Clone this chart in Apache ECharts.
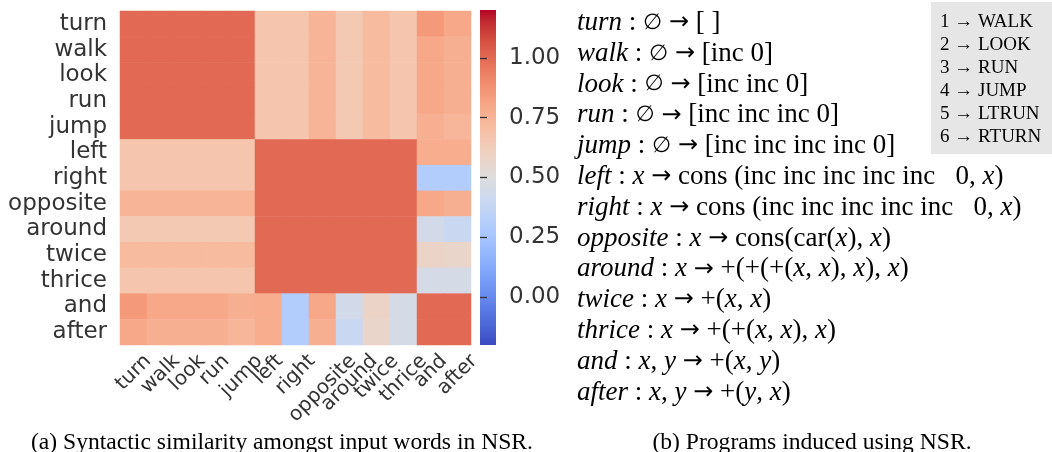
<!DOCTYPE html>
<html><head><meta charset="utf-8">
<script src="https://cdn.jsdelivr.net/npm/echarts@6/dist/echarts.min.js"></script>
<style>html,body{margin:0;padding:0;background:#fff}#c{width:1052px;height:452px}</style>
</head><body><div id="c"></div>
<script>
// ---------- data ----------
const categories = ['turn','walk','look','run','jump','left','right','opposite','around','twice','thrice','and','after'];
const rowTurn     = [1,1,1,1,1, 0.67,0.67,0.75,0.65,0.72,0.67, 0.85,0.80];
const rowWalk     = [1,1,1,1,1, 0.67,0.67,0.75,0.65,0.72,0.67, 0.80,0.77];
const rowLook     = [1,1,1,1,1, 0.67,0.67,0.75,0.65,0.72,0.67, 0.80,0.77];
const rowRun      = [1,1,1,1,1, 0.67,0.67,0.75,0.65,0.72,0.67, 0.80,0.77];
const rowJump     = [1,1,1,1,1, 0.67,0.67,0.75,0.65,0.72,0.67, 0.77,0.74];
const rowLeft     = [0.67,0.67,0.67,0.67,0.67, 1,1,1,1,1,1, 0.78,0.78];
const rowRight    = [0.67,0.67,0.67,0.67,0.67, 1,1,1,1,1,1, 0.30,0.30];
const rowOpposite = [0.75,0.75,0.75,0.75,0.75, 1,1,1,1,1,1, 0.80,0.77];
const rowAround   = [0.65,0.65,0.65,0.65,0.65, 1,1,1,1,1,1, 0.44,0.40];
const rowTwice    = [0.72,0.72,0.72,0.72,0.72, 1,1,1,1,1,1, 0.58,0.57];
const rowThrice   = [0.67,0.67,0.67,0.67,0.67, 1,1,1,1,1,1, 0.45,0.45];
const rowAnd      = [0.85,0.80,0.80,0.80,0.77, 0.78,0.30,0.80,0.44,0.58,0.45, 1,1];
const rowAfter    = [0.80,0.77,0.77,0.77,0.74, 0.78,0.30,0.77,0.40,0.57,0.45, 1,1];
const simMatrix = [rowTurn,rowWalk,rowLook,rowRun,rowJump,rowLeft,rowRight,rowOpposite,rowAround,rowTwice,rowThrice,rowAnd,rowAfter];
const colorbarTicks = [0, 0.25, 0.5, 0.75, 1.0];
const colorMin = -0.2, colorMax = 1.2;

const programLines = [
  '{i|turn}{r| : }{s|∅}{r| }{a|→}{r| [ ]}',
  '{i|walk}{r| : }{s|∅}{r| }{a|→}{r| [inc 0]}',
  '{i|look}{r| : }{s|∅}{r| }{a|→}{r| [inc inc 0]}',
  '{i|run}{r| : }{s|∅}{r| }{a|→}{r| [inc inc inc 0]}',
  '{i|jump}{r| : }{s|∅}{r| }{a|→}{r| [inc inc inc inc 0]}',
  '{i|left}{r| : }{i|x}{r| }{a|→}{r| cons (inc inc inc inc inc   0, }{i|x}{r|)}',
  '{i|right}{r| : }{i|x}{r| }{a|→}{r| cons (inc inc inc inc inc   0, }{i|x}{r|)}',
  '{i|opposite}{r| : }{i|x}{r| }{a|→}{r| cons(car(}{i|x}{r|), }{i|x}{r|)}',
  '{i|around}{r| : }{i|x}{r| }{a|→}{r| +(+(+(}{i|x}{r|, }{i|x}{r|), }{i|x}{r|), }{i|x}{r|)}',
  '{i|twice}{r| : }{i|x}{r| }{a|→}{r| +(}{i|x}{r|, }{i|x}{r|)}',
  '{i|thrice}{r| : }{i|x}{r| }{a|→}{r| +(+(}{i|x}{r|, }{i|x}{r|), }{i|x}{r|)}',
  '{i|and}{r| : }{i|x}{r|, }{i|y}{r| }{a|→}{r| +(}{i|x}{r|, }{i|y}{r|)}',
  '{i|after}{r| : }{i|x}{r|, }{i|y}{r| }{a|→}{r| +(}{i|y}{r|, }{i|x}{r|)}'
];
const legendLines = ['1 → WALK','2 → LOOK','3 → RUN','4 → JUMP','5 → LTRUN','6 → RTURN'];
const captionA = '(a) Syntactic similarity amongst input words in NSR.';
const captionB = '(b) Programs induced using NSR.';

// coolwarm colormap (evenly spaced stops)
const coolwarm = [
 [59,76,192],[68,90,204],[77,104,215],[87,117,225],[98,130,234],[108,142,241],[119,154,247],[130,165,251],
 [141,176,254],[152,185,255],[163,194,255],[174,201,253],[184,208,249],[194,213,244],[204,217,238],[213,219,230],
 [221,221,221],[229,216,209],[236,211,197],[241,204,184],[245,196,172],[247,187,159],[247,177,147],[247,166,134],
 [244,154,123],[241,141,111],[236,127,99],[229,112,88],[222,96,77],[213,80,66],[203,62,56],[192,40,47],[180,4,38]
].map(c => `rgb(${c[0]},${c[1]},${c[2]})`);

// ---------- layout ----------
const G = {left: 120, top: 11, width: 351, height: 334};
const CB = {left: 480, top: 10, width: 16, height: 335};
const xFont = 20, yFont = 23, cbFont = 23, progFont = 27, capFont = 23.6, legFont = 19;
const textColor = '#333';

const heatData = [];
simMatrix.forEach((row, y) => row.forEach((v, x) => heatData.push([x, y, v])));

const chart = echarts.init(document.getElementById('c'), null, {renderer: 'canvas'});

const cbGradient = new echarts.graphic.LinearGradient(0, 1, 0, 0,
  coolwarm.map((c, i) => ({offset: i / (coolwarm.length - 1), color: c})));

const option = {
  animation: false,
  backgroundColor: '#fff',
  grid: [
    {left: G.left, top: G.top, width: G.width, height: G.height, containLabel: false},
    {left: CB.left, top: CB.top, width: CB.width, height: CB.height, show: true,
     backgroundColor: cbGradient, borderWidth: 0}
  ],
  xAxis: [
    {type: 'category', gridIndex: 0, data: categories, axisLine: {show: false}, axisTick: {show: false},
     axisLabel: {show: false}, splitLine: {show: false}},
    {type: 'value', gridIndex: 1, show: false, min: 0, max: 1}
  ],
  yAxis: [
    {type: 'category', gridIndex: 0, data: categories, inverse: true, axisLine: {show: false}, axisTick: {show: false},
     axisLabel: {interval: 0, fontSize: yFont, fontFamily: 'DejaVu Sans', color: textColor, margin: 13},
     splitLine: {show: false}},
    {type: 'value', gridIndex: 1, position: 'right', min: colorMin, max: colorMax,
     axisLine: {show: false}, splitLine: {show: false},
     axisTick: {show: true, length: 7, customValues: colorbarTicks, lineStyle: {color: textColor, width: 1.3}},
     axisLabel: {customValues: colorbarTicks, formatter: v => v.toFixed(2), fontSize: cbFont,
                 fontFamily: 'DejaVu Sans', color: textColor, margin: 13}}
  ],
  visualMap: {
    show: false, type: 'continuous', min: colorMin, max: colorMax, seriesIndex: 0,
    inRange: {color: coolwarm}
  },
  series: [
    {type: 'heatmap', xAxisIndex: 0, yAxisIndex: 0, data: heatData, itemStyle: {borderWidth: 0},
     emphasis: {disabled: true}},
    {type: 'line', xAxisIndex: 1, yAxisIndex: 1, data: [], silent: true}
  ]
};
chart.setOption(option);

// ---------- texts ----------
const ctx = document.createElement('canvas').getContext('2d');
ctx.font = `${xFont}px "DejaVu Sans"`;
const gridBottom = G.top + G.height;
const graphics = [];
categories.forEach(c => {
  const px = chart.convertToPixel({xAxisIndex: 0}, c);
  const w = ctx.measureText(c).width;
  graphics.push({type: 'text', x: px + w * 0.3536, y: gridBottom + 6 + xFont * 0.3536,
    rotation: Math.PI / 4,
    style: {text: c, font: `${xFont}px "DejaVu Sans"`, fill: textColor, align: 'right', verticalAlign: 'middle'}});
});
programLines.forEach((t, i) => {
  graphics.push({type: 'text', x: 577, y: 23 + 30.8 * i,
    style: {text: t, fill: '#000', verticalAlign: 'middle', align: 'left',
      rich: {
        i: {fontFamily: 'Liberation Serif', fontStyle: 'italic', fontSize: progFont, fill: '#000'},
        r: {fontFamily: 'Liberation Serif', fontSize: progFont, fill: '#000'},
        a: {fontFamily: 'DejaVu Sans', fontSize: 24, fill: '#000'},
        s: {fontFamily: 'DejaVu Sans', fontSize: 22, fill: '#000'}
      }}});
});
graphics.push({type: 'rect', shape: {x: 931, y: 2, width: 125, height: 152}, style: {fill: '#e6e6e6'}, z: -1});
legendLines.forEach((t, i) => {
  graphics.push({type: 'text', x: 940, y: 22 + 23 * i,
    style: {text: t, font: `${legFont}px "Liberation Serif"`, fill: '#000', align: 'left', verticalAlign: 'middle'}});
});
graphics.push({type: 'text', x: 282, y: 443,
  style: {text: captionA, font: `${capFont}px "Liberation Serif"`, fill: '#000', align: 'center', verticalAlign: 'middle'}});
graphics.push({type: 'text', x: 812, y: 443,
  style: {text: captionB, font: `${capFont}px "Liberation Serif"`, fill: '#000', align: 'center', verticalAlign: 'middle'}});

chart.setOption({graphic: {elements: graphics}});
</script>
</body></html>
